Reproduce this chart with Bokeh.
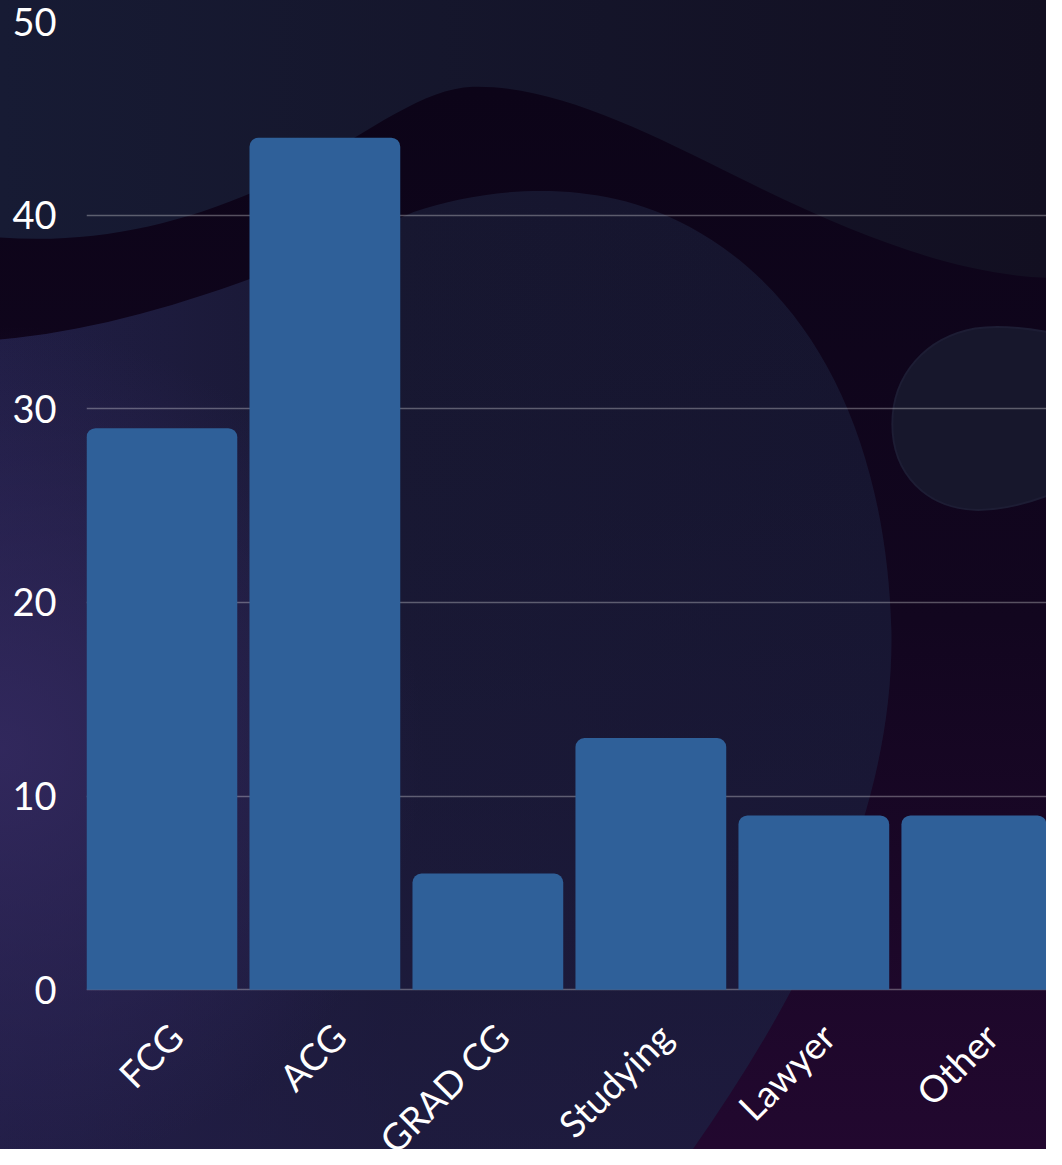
import math
from urllib.parse import quote
from bokeh.plotting import figure
from bokeh.models import Range1d, FixedTicker, ColumnDataSource, InlineStyleSheet
from bokeh.core.properties import value
from bokeh.embed import file_html
from bokeh.resources import INLINE

# ---- data ----
categories = ["FCG", "ACG", "GRAD CG", "Studying", "Lawyer", "Other"]
counts = [29, 44, 6, 13, 9, 9]
y_ticks = [0, 10, 20, 30, 40, 50]

positions = list(range(len(categories)))
source = ColumnDataSource(dict(x=positions, top=counts, cat=categories,
                               base=[0] * len(categories)))

# ---- decorative background (drawn in a 1062x1165 box, stretched to the figure) ----
svg = """<svg xmlns='http://www.w3.org/2000/svg' viewBox='0 0 1062 1165' preserveAspectRatio='none'>
<defs>
<linearGradient id='base' x1='0' y1='0' x2='1062' y2='0' gradientUnits='userSpaceOnUse'>
<stop offset='0' stop-color='#171b34'/><stop offset='1' stop-color='#120f21'/></linearGradient>
<linearGradient id='dark' x1='0' y1='90' x2='0' y2='1165' gradientUnits='userSpaceOnUse'>
<stop offset='0' stop-color='#0c0418'/><stop offset='0.5' stop-color='#12061f'/><stop offset='1' stop-color='#22082f'/></linearGradient>
<linearGradient id='low' x1='0' y1='0' x2='900' y2='0' gradientUnits='userSpaceOnUse'>
<stop offset='0' stop-color='#211e46'/><stop offset='0.45' stop-color='#171730'/><stop offset='1' stop-color='#15142d'/></linearGradient>
<radialGradient id='glow' cx='0' cy='760' r='430' gradientUnits='userSpaceOnUse'>
<stop offset='0' stop-color='#33295f' stop-opacity='0.9'/><stop offset='1' stop-color='#33295f' stop-opacity='0'/></radialGradient>
<linearGradient id='lowv' x1='0' y1='200' x2='0' y2='1165' gradientUnits='userSpaceOnUse'>
<stop offset='0' stop-color='#1a1a3a' stop-opacity='0'/><stop offset='1' stop-color='#231e48' stop-opacity='0.6'/></linearGradient>
</defs>
<rect x='0' y='0' width='1062' height='1165' fill='url(#base)'/>
<path d='M -10,240 C 100,250 200,225 300,175 C 380,130 430,90 480,88 C 560,86 650,130 750,180 C 880,245 980,280 1070,282 L 1070,1170 L -10,1170 Z' fill='url(#dark)'/>
<path d='M -10,345 C 120,335 250,290 420,215 C 500,188 610,180 700,230 C 830,300 900,450 905,640 C 908,820 820,1000 700,1170 L -10,1170 Z' fill='url(#low)'/>
<path d='M -10,345 C 120,335 250,290 420,215 C 500,188 610,180 700,230 C 830,300 900,450 905,640 C 908,820 820,1000 700,1170 L -10,1170 Z' fill='url(#lowv)'/>
<rect x='-10' y='300' width='500' height='870' fill='url(#glow)'/>
<path d='M 1070,338 C 1040,332 1010,330 990,333 C 940,342 906,380 906,430 C 906,480 940,516 993,517 C 1020,517 1045,510 1070,500 Z' fill='#17172c' stroke='#1d1d34' stroke-width='2'/>
</svg>"""
bg_css = (":host { background-image: url(\"data:image/svg+xml;utf8,%s\"); "
          "background-size: 100%% 100%%; background-repeat: no-repeat; }") % quote(svg.replace("\n", ""))

p = figure(width=1046, height=1149,
           x_range=Range1d(-0.4625, 5.4275), y_range=Range1d(-8.25, 50),
           x_axis_location=None,
           output_backend="svg", toolbar_location=None,
           min_border_left=86, min_border_right=0, min_border_top=21, min_border_bottom=0,
           stylesheets=[InlineStyleSheet(css=bg_css)])
p.background_fill_alpha = 0
p.border_fill_alpha = 0
p.outline_line_color = None

p.vbar(x="x", top="top", bottom="base", width=0.925, source=source,
       fill_color="#2f6099", line_color=None, border_radius=(9, 9, 0, 0))

# y axis
p.yaxis.ticker = FixedTicker(ticks=y_ticks)
p.yaxis.axis_line_color = None
p.yaxis.major_tick_line_color = None
p.yaxis.minor_tick_line_color = None
p.yaxis.major_label_standoff = 24
p.yaxis.major_label_text_font = "Lato"
p.yaxis.major_label_text_font_size = "38px"
p.yaxis.major_label_text_color = "#ffffff"

p.xgrid.visible = False
p.ygrid.ticker = FixedTicker(ticks=y_ticks)
p.ygrid.grid_line_color = "#ffffff"
p.ygrid.grid_line_alpha = 0.3
p.ygrid.grid_line_width = 1.3

# category labels, rotated 45 degrees under each bar
p.text(x="x", y="base", text="cat", source=source,
       x_offset=14, y_offset=40, angle=math.pi / 4,
       text_align="right", text_baseline="middle",
       text_font=value("Lato"), text_font_size=value("37px"),
       text_color="#ffffff")

open("out.html", "w").write(file_html(p, INLINE))
